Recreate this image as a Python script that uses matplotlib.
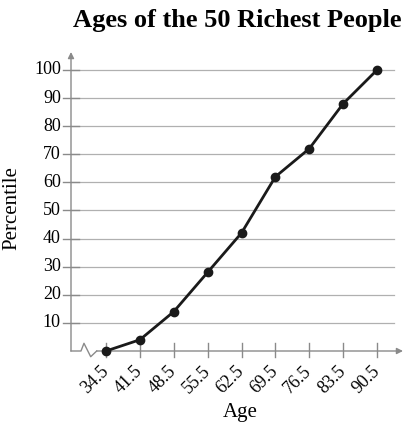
import matplotlib
matplotlib.use("Agg")
import matplotlib.pyplot as plt

ages = [34.5, 41.5, 48.5, 55.5, 62.5, 69.5, 76.5, 83.5, 90.5]
percentiles = [0, 4, 14, 28, 42, 62, 72, 88, 100]
yticks = [10, 20, 30, 40, 50, 60, 70, 80, 90, 100]

plt.rcParams['font.family'] = ['Liberation Serif', 'DejaVu Serif']

axis_col = '#8a8a8a'
grid_col = '#b0b0b0'

fig = plt.figure(figsize=(4.05, 4.29), dpi=100)
ax = fig.add_axes([71/405, (429-351)/429, (403-71)/405, (351-52)/429])
xmin, xmax = 27.27, 95.87
ax.set_xlim(xmin, xmax)
ax.set_ylim(0, 106.4)
for s in ax.spines.values():
    s.set_visible(False)
ax.set_xticks([])
ax.set_yticks([])

# grid lines
grid_end = 34.5 + (394 - 106) / 4.839
for v in yticks:
    ax.plot([xmin, grid_end], [v, v], color=grid_col, lw=0.9, clip_on=False, zorder=1)
    ax.plot([xmin - 1.65, xmin + 1.65], [v, v], color=axis_col, lw=1.0, clip_on=False, zorder=2)
    ax.text(xmin - 2.1, v, str(v), ha='right', va='center', fontsize=13)

# y axis with arrow
ax.annotate('', xy=(xmin, 106.4), xytext=(xmin, 0),
            arrowprops=dict(arrowstyle='-|>', color=axis_col, lw=1.0,
                            mutation_scale=9, shrinkA=0, shrinkB=0),
            annotation_clip=False)

# x axis with break and arrow
bx = [xmin, 29.33, 29.95, 31.34, 32.58]
by = [0, 0, 2.74, -2.03, 0]
ax.plot(bx, by, color=axis_col, lw=1.0, clip_on=False, zorder=2)
ax.annotate('', xy=(xmax, 0), xytext=(32.58, 0),
            arrowprops=dict(arrowstyle='-|>', color=axis_col, lw=1.0,
                            mutation_scale=9, shrinkA=0, shrinkB=0),
            annotation_clip=False)
for a in ages:
    ax.plot([a, a], [-2.2, 2.8], color=axis_col, lw=1.0, clip_on=False, zorder=2)
    ax.text(a, -6.4, str(a), rotation=45, ha='right', va='center',
            fontsize=13, rotation_mode='anchor')

ax.plot(ages, percentiles, color='#1a1a1a', lw=2.0, marker='o', ms=6,
        clip_on=False, zorder=3)

fig.text(237/405, 1 - 21/429, 'Ages of the 50 Richest People', ha='center',
         va='center', fontsize=19, fontweight='bold')
fig.text(12/405, 1 - 208/429, 'Percentile', rotation=90, ha='center',
         va='center', fontsize=15)
fig.text(240/405, 1 - 413/429, 'Age', ha='center', va='center', fontsize=15)

fig.savefig('out.png', dpi=100)
